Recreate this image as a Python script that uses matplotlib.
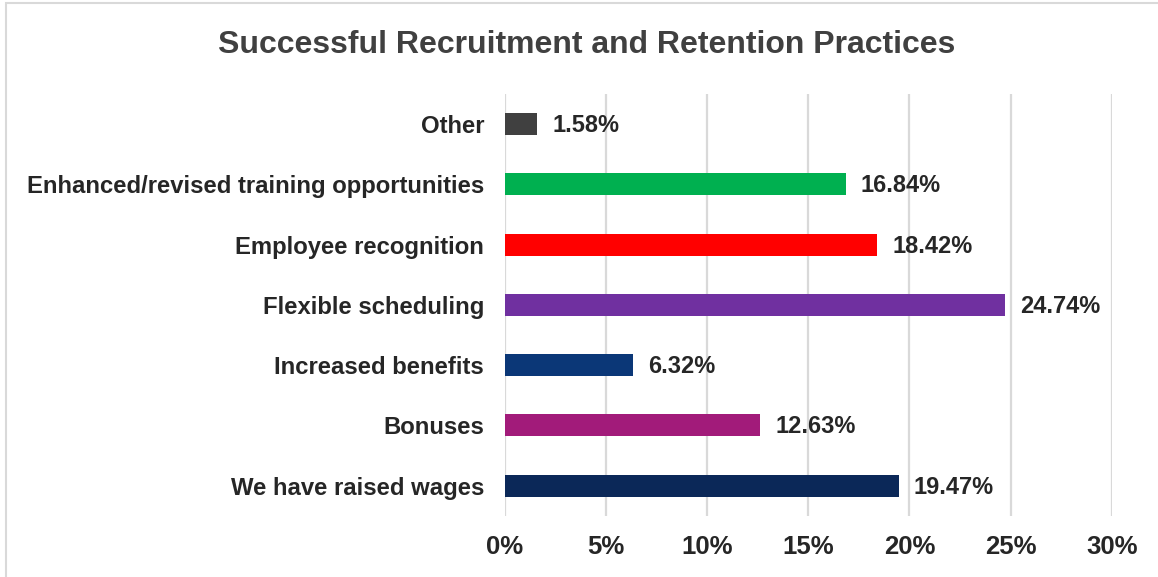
import matplotlib.pyplot as plt
from matplotlib.patches import Rectangle
from matplotlib.ticker import FuncFormatter

# ------------------------------------------------------------
# Data
# ------------------------------------------------------------
categories = [
    "We have raised wages",
    "Bonuses",
    "Increased benefits",
    "Flexible scheduling",
    "Employee recognition",
    "Enhanced/revised training opportunities",
    "Other",
]
shares = [19.47, 12.63, 6.32, 24.74, 18.42, 16.84, 1.58]
bar_colors = ["#0B2858", "#A21B7A", "#0B3777", "#7030A0", "#FF0000", "#00B050", "#404040"]

TITLE = "Successful Recruitment and Retention Practices"

plt.rcParams["font.family"] = ["Liberation Sans", "DejaVu Sans"]
plt.rcParams["font.weight"] = "bold"

fig = plt.figure(figsize=(11.58, 5.77), dpi=100)
ax = fig.add_axes([0.436, 0.106, 0.524, 0.731])

ypos = range(len(categories))
ax.barh(ypos, shares, height=0.365, color=bar_colors, zorder=3)

for y, v in zip(ypos, shares):
    ax.annotate(f"{v:.2f}%", (v, y), xytext=(11, -1), textcoords="offset points",
                va="center", ha="left", fontsize=17, fontweight="bold", color="#262626")

ax.set_xlim(0, 30)
ax.set_ylim(-0.5, len(categories) - 0.5)
ax.set_xticks(range(0, 31, 5))
ax.xaxis.set_major_formatter(FuncFormatter(lambda x, _: f"{x:.0f}%"))
ax.set_yticks(list(ypos))
ax.set_yticklabels(categories)

ax.tick_params(axis="x", length=0, pad=14, labelsize=18.5, labelcolor="#262626")
ax.tick_params(axis="y", length=0, pad=15, labelsize=17.2, labelcolor="#262626")
for lbl in ax.get_xticklabels() + ax.get_yticklabels():
    lbl.set_fontweight("bold")

ax.grid(axis="x", color="#d9d9d9", linewidth=1.6, zorder=0)
for s in ax.spines.values():
    s.set_visible(False)

fig.text(0.507, 0.922, TITLE, ha="center", va="center", fontsize=23,
         fontweight="bold", color="#404040")

# light frame around the chart area
fig.patches.append(Rectangle((6 / 1158, -0.1), 1.2, 1.1 - 3 / 577, transform=fig.transFigure,
                             fill=False, edgecolor="#d9d9d9", linewidth=1.5))

fig.savefig("out.png", dpi=100)
